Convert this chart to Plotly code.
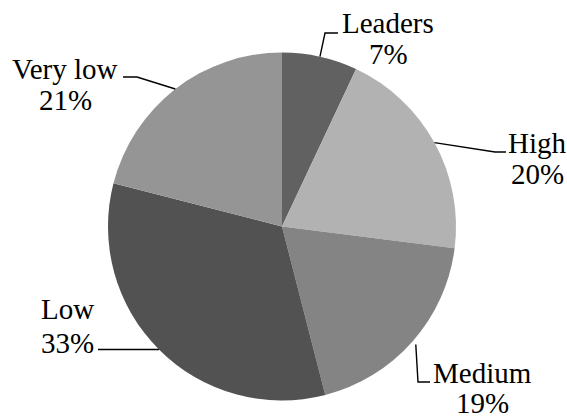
import math
import plotly.graph_objects as go

# ---- data ----
categories = ["Leaders", "High", "Medium", "Low", "Very low"]
shares = [7, 20, 19, 33, 21]
colors = ["#616161", "#b2b2b2", "#848484", "#525252", "#959595"]

# ---- layout constants (pixels in the 567x420 window) ----
W, H = 567, 420
CX, CY, R = 282, 226.5, 174
FONT = dict(family="Liberation Serif", size=29, color="black")
# label centre (x) and the two text-line centres (y) for each category
label_pos = {
    "Leaders": (388, 22.5, 53.5),
    "High": (537, 142.5, 173.5),
    "Medium": (482.5, 373, 403),
    "Low": (67.5, 308.5, 342.5),
    "Very low": (65, 69.5, 99.5),
}
# leader line: start radius factor, elbow point, end point
leader = {
    "Leaders": (1.0, (325, 33), (338, 33)),
    "High": (1.0, (495, 152), (506, 152)),
    "Medium": (1.025, (418, 382), (430, 382)),
    "Low": (1.0, None, (98, None)),
    "Very low": (1.0, (137, 77), (123, 77)),
}


def px(x):
    return x / W


def py(y):
    return 1 - y / H


fig = go.Figure(
    go.Pie(
        labels=categories,
        values=shares,
        sort=False,
        direction="clockwise",
        rotation=0,
        marker=dict(colors=colors, line=dict(width=0)),
        textinfo="none",
        hoverinfo="label+percent",
        showlegend=False,
        domain=dict(x=[px(CX - R), px(CX + R)], y=[py(CY + R), py(CY - R)]),
    )
)

total = sum(shares)
cum = 0
shapes = []
annotations = []
for name, v in zip(categories, shares):
    mid = 2 * math.pi * (cum + v / 2) / total
    cum += v
    f, elbow, end = leader[name]
    sx = CX + R * f * math.sin(mid)
    sy = CY - R * f * math.cos(mid)
    pts = [(sx, sy)]
    if elbow is not None:
        pts.append(elbow)
    ex, ey = end
    if ey is None:
        ey = sy
    pts.append((ex, ey))
    path = "M " + " L ".join(f"{px(x):.5f},{py(y):.5f}" for x, y in pts)
    shapes.append(dict(type="path", xref="paper", yref="paper", path=path,
                       line=dict(color="black", width=1.4)))
    lx, ly1, ly2 = label_pos[name]
    pct = f"{round(100 * v / total)}%"
    for txt, yy in ((name, ly1), (pct, ly2)):
        annotations.append(dict(text=txt, x=px(lx), y=py(yy), xref="paper", yref="paper",
                                xanchor="center", yanchor="middle", showarrow=False,
                                font=FONT))

fig.update_layout(
    width=W, height=H,
    margin=dict(l=0, r=0, t=0, b=0),
    paper_bgcolor="white",
    plot_bgcolor="white",
    font=FONT,
    shapes=shapes,
    annotations=annotations,
)

fig.write_html(
    "out.html",
    config={"displayModeBar": False},
    post_script="document.body.style.margin='0';document.body.style.overflow='hidden';",
)
